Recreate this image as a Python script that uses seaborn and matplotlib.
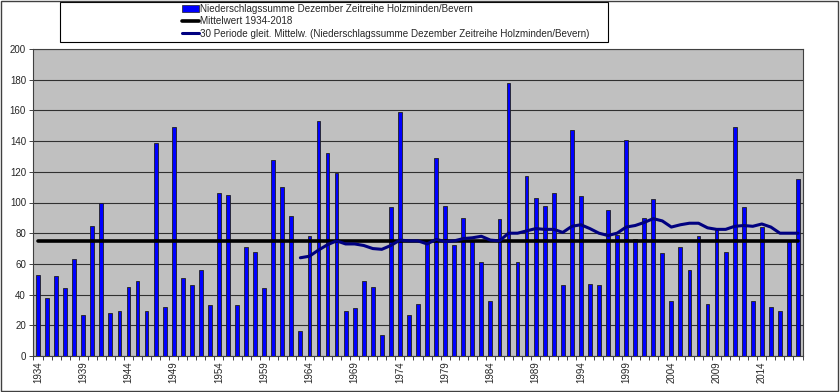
import numpy as np
import pandas as pd
import matplotlib
matplotlib.use("Agg")
import matplotlib.pyplot as plt
import seaborn as sns
from matplotlib.patches import Rectangle
from matplotlib.lines import Line2D

# data
years = list(range(1934, 2019))
niederschlag = [53, 38, 52, 44, 63, 27, 85, 100, 28, 29,
                45, 49, 29, 139, 32, 149, 51, 46, 56, 33,
                106, 105, 33, 71, 68, 44, 128, 110, 91, 16,
                78, 153, 132, 119, 29, 31, 49, 45, 14, 97,
                159, 27, 34, 74, 129, 98, 72, 90, 75, 61,
                36, 89, 178, 61, 117, 103, 98, 106, 46, 147,
                104, 47, 46, 95, 79, 141, 76, 90, 102, 67,
                36, 71, 56, 78, 34, 82, 68, 149, 97, 36,
                84, 32, 29, 75, 115]
mittelwert = 75
gleit_mittel = [64, 65, 69, 72.5, 75, 73, 73, 72, 70, 69.5,
                72, 75.5, 75, 75, 73, 76, 74.5, 75, 76.5, 77,
                78, 75.5, 75, 80, 80, 81.5, 83, 82.5, 82.5, 80.5,
                84.5, 85.5, 83, 80, 78.5, 80, 84, 85, 87, 89.5,
                88, 84, 85.5, 86.5, 86.5, 83.5, 82.5, 82.5, 84.5, 85,
                84.5, 86, 84, 80, 80, 80]
ma_years = years[len(years) - len(gleit_mittel):]

df = pd.DataFrame({"jahr": years, "wert": niederschlag})
df["pos"] = np.arange(len(years))
ma = pd.DataFrame({"pos": [years.index(y) for y in ma_years], "wert": gleit_mittel})

legend_labels = ["Niederschlagssumme Dezember Zeitreihe Holzminden/Bevern",
                 "Mittelwert 1934-2018",
                 "30 Periode gleit. Mittelw. (Niederschlagssumme Dezember Zeitreihe Holzminden/Bevern)"]

sns.set_style("white")
plt.rcParams["font.family"] = ["Liberation Sans", "DejaVu Sans"]

fig = plt.figure(figsize=(8.4, 3.92), dpi=100)
ax = fig.add_axes([33/840, 1 - 356/392, 770/840, 307/392])
ax.set_facecolor("#C0C0C0")

sns.barplot(data=df, x="pos", y="wert", color="#0000FF", width=0.42,
            edgecolor="#202020", linewidth=0.6, saturation=1, ax=ax, zorder=3)
ax.plot(df["pos"], [mittelwert] * len(df), color="black", lw=2.6, zorder=4)
sns.lineplot(data=ma, x="pos", y="wert", color="#000080", lw=2.2, ax=ax, zorder=5)

ax.set_xlim(-0.55, len(years) - 0.45)
ax.set_ylim(0, 200)
ax.set_yticks(range(0, 201, 20))
ax.yaxis.grid(True, color="#303030", lw=0.8, zorder=0)
ax.set_axisbelow(True)
ax.tick_params(axis="y", labelsize=7, length=3, width=0.6, left=True, pad=2)

ax.set_xticks([i for i, y in enumerate(years) if (y - 1934) % 5 == 0])
ax.set_xticklabels([str(y) for y in years if (y - 1934) % 5 == 0], rotation=90, fontsize=7)
ax.set_xticks(np.arange(-0.5, len(years), 1), minor=True)
ax.tick_params(axis="x", which="major", length=0, pad=4)
ax.tick_params(axis="x", which="minor", length=3, width=0.6, bottom=True)
ax.set_xlabel("")
ax.set_ylabel("")
for s in ax.spines.values():
    s.set_color("#404040")
    s.set_linewidth(0.8)

# legend box at the top
fig.patches.append(Rectangle((60/840, 1 - 42/392), 548/840, 40/392, transform=fig.transFigure,
                             fill=False, edgecolor="black", lw=0.8))
handles = [Rectangle((0, 0), 1, 1, facecolor="#0000FF", edgecolor="#202020", lw=0.5),
           Line2D([], [], color="black", lw=2.6),
           Line2D([], [], color="#000080", lw=2.2)]
fig.legend(handles, legend_labels, loc="upper left", bbox_to_anchor=(180/840, 1 - 2/392),
           frameon=False, fontsize=7.1, handlelength=1.7, handletextpad=0.1,
           labelspacing=0.25, borderpad=0.2, borderaxespad=0)

# outer frame
fig.patches.append(Rectangle((1/840, 1/392), 837/840, 390/392, transform=fig.transFigure,
                             fill=False, edgecolor="#404040", lw=1))

fig.savefig("out.png", dpi=100)
